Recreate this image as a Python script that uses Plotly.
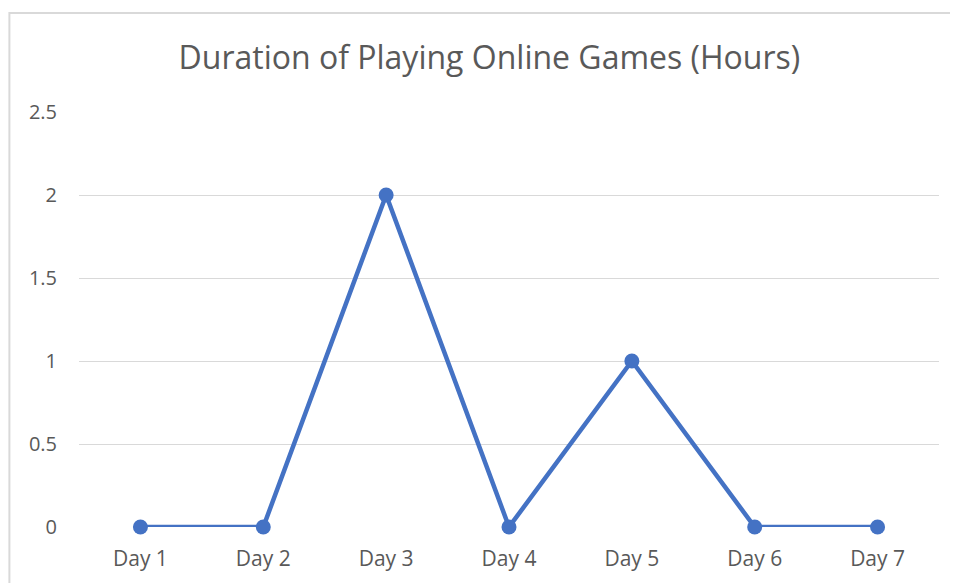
import plotly.graph_objects as go

days = ["Day 1", "Day 2", "Day 3", "Day 4", "Day 5", "Day 6", "Day 7"]
hours = [0, 0, 2, 0, 1, 0, 0]
y_ticks = [0, 0.5, 1, 1.5, 2, 2.5]
y_tick_text = ["0", "0.5", "1", "1.5", "2", "2.5"]

# page body has an 8px margin; figure starts at (8, 8) of the page
W, H = 958, 575
L, R, T, B = 70.6, 27.4, 104, 56
pw, ph = W - L - R, H - T - B

def px(x):
    return (x - L) / pw

def py(y):
    return (H - B - y) / ph

fig = go.Figure()
fig.add_trace(go.Scatter(
    x=days, y=hours, mode="lines+markers",
    line=dict(color="#4472C4", width=4.5),
    marker=dict(color="#4472C4", size=15),
    cliponaxis=False, showlegend=False,
))

fig.update_layout(
    width=W, height=H,
    margin=dict(l=L, r=R, t=T, b=B, pad=0),
    paper_bgcolor="white", plot_bgcolor="white",
    font=dict(family="Open Sans, Calibri, sans-serif", color="#595959", size=20),
    title=dict(text="Duration of Playing Online Games (Hours)", x=px(481), xref="paper",
               y=1 - 50 / H, yanchor="middle", xanchor="center",
               font=dict(size=32, color="#595959")),
    xaxis=dict(type="category", range=[-0.5, 6.5], showgrid=False, zeroline=False,
               showline=False, ticks="outside", ticklen=13, tickcolor="rgba(0,0,0,0)",
               tickfont=dict(size=21, color="#595959")),
    yaxis=dict(range=[0, 2.5], tickvals=y_ticks, ticktext=y_tick_text,
               showgrid=True, gridcolor="#D9D9D9", gridwidth=1, zeroline=False,
               showline=False, ticks="outside", ticklen=17, tickcolor="rgba(0,0,0,0)",
               tickfont=dict(size=20, color="#595959")),
    shapes=[dict(type="rect", xref="paper", yref="paper",
                 x0=px(1), x1=px(1000), y0=py(5), y1=py(600),
                 line=dict(color="#D9D9D9", width=2), fillcolor="rgba(0,0,0,0)", layer="below")],
)

fig.write_html("out.html")
